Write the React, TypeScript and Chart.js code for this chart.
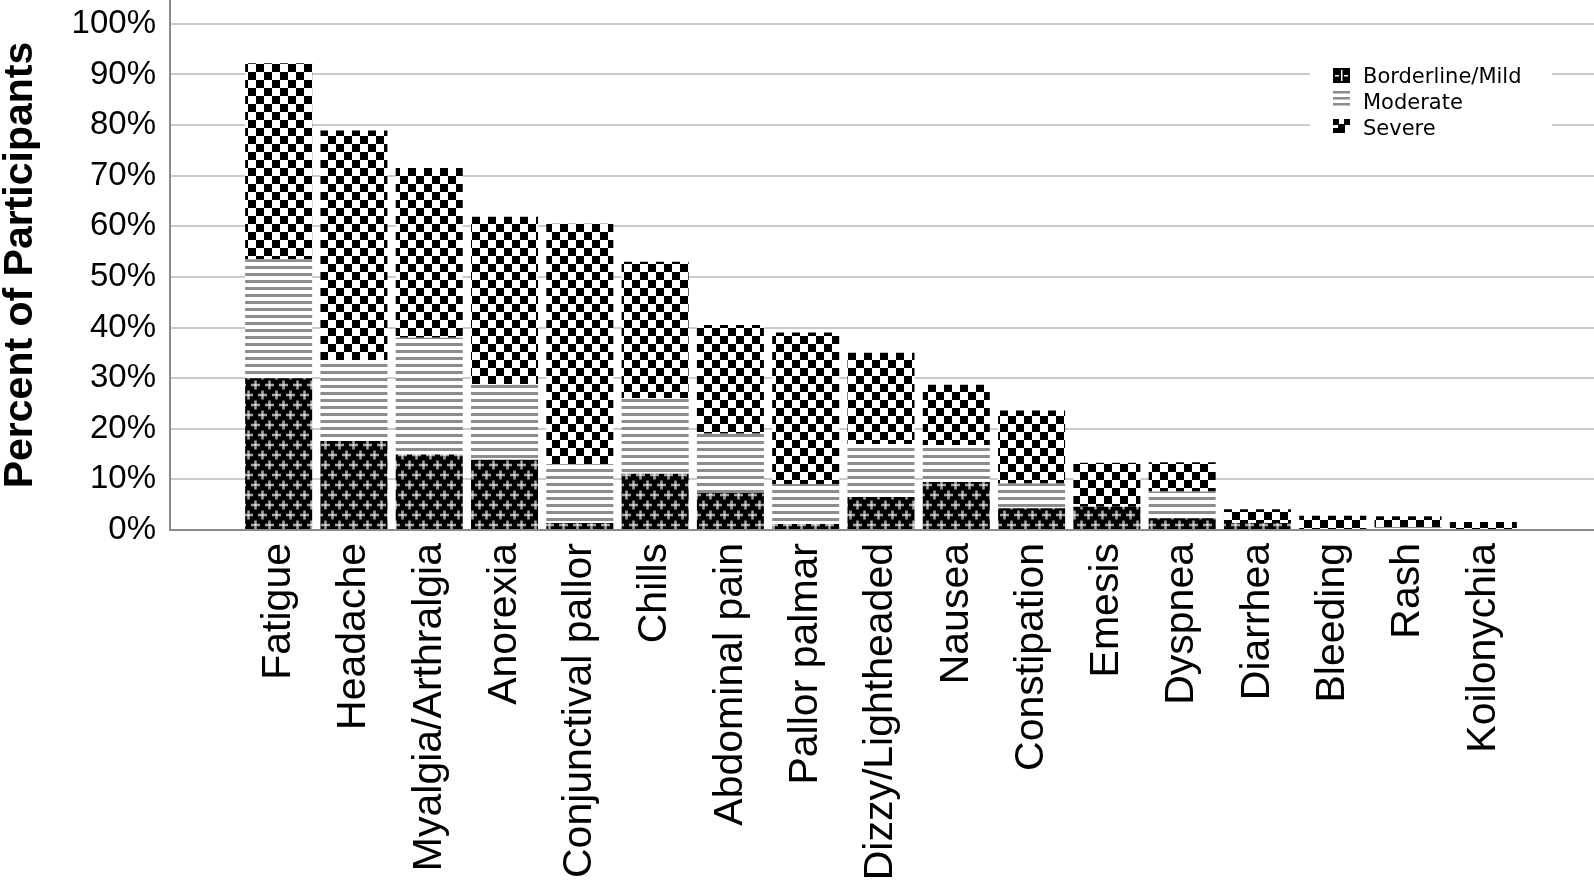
import React, { useEffect, useRef } from 'react';
import { Chart, registerables } from 'chart.js';

Chart.register(...registerables);

const categories = [
  'Fatigue', 'Headache', 'Myalgia/Arthralgia', 'Anorexia', 'Conjunctival pallor', 'Chills',
  'Abdominal pain', 'Pallor palmar', 'Dizzy/Lightheaded', 'Nausea', 'Constipation', 'Emesis',
  'Dyspnea', 'Diarrhea', 'Bleeding', 'Rash', 'Koilonychia',
];
const mildValues = [30.0, 17.6, 14.9, 13.9, 1.4, 11.1, 7.3, 1.2, 6.5, 9.5, 4.3, 4.6, 2.3, 1.4, 0, 0, 0];
const moderateValues = [23.5, 16.0, 23.1, 14.9, 11.6, 15.0, 11.7, 7.9, 10.5, 7.3, 4.9, 0, 5.3, 0, 0, 0.6, 0];
const severeValues = [38.7, 45.3, 33.5, 33.1, 47.5, 26.9, 21.5, 29.9, 18.0, 11.9, 14.4, 8.7, 5.8, 2.7, 2.8, 2.1, 1.6];
const seriesLabels = ['Borderline/Mild', 'Moderate', 'Severe'];
const yTickValues = [0, 10, 20, 30, 40, 50, 60, 70, 80, 90, 100];
const yAxisTitle = 'Percent of Participants';

const W = 1594;
const H = 888;

function makeTile(w: number, h: number, draw: (c: CanvasRenderingContext2D) => void) {
  const c = document.createElement('canvas');
  c.width = w;
  c.height = h;
  const g = c.getContext('2d')!;
  draw(g);
  return c;
}

function buildPatterns(ctx: CanvasRenderingContext2D) {
  const mild = makeTile(14, 20, (g) => {
    g.fillStyle = '#000';
    g.fillRect(0, 0, 14, 20);
    const cross = (x: number, y: number) => {
      g.fillStyle = '#a6a6a6';
      g.fillRect(x - 4.5, y - 1.25, 9, 2.5);
      g.fillRect(x - 1.25, y - 4.5, 2.5, 9);
      g.fillStyle = '#e0e0e0';
      g.fillRect(x - 1, y - 1, 2, 2);
    };
    [[3.5, 5], [10.5, 15], [-3.5, 15], [17.5, 5], [3.5, 25], [10.5, -5]].forEach(([x, y]) => cross(x, y));
  });
  const moderate = makeTile(8, 7, (g) => {
    g.fillStyle = '#fff';
    g.fillRect(0, 0, 8, 7);
    g.fillStyle = '#8c8c8c';
    g.fillRect(0, 0, 8, 3);
  });
  const severe = makeTile(16, 16, (g) => {
    g.fillStyle = '#fff';
    g.fillRect(0, 0, 16, 16);
    g.fillStyle = '#000';
    g.fillRect(0, 0, 8, 8);
    g.fillRect(8, 8, 8, 8);
  });
  return [
    ctx.createPattern(mild, 'repeat')!,
    ctx.createPattern(moderate, 'repeat')!,
    ctx.createPattern(severe, 'repeat')!,
  ];
}

const AXIS_GAP = 71; // distance from drawn y-axis line to first category slot

const extGridPlugin = {
  id: 'extGrid',
  beforeDatasetsDraw(chart: any) {
    const { ctx, scales, chartArea } = chart;
    const y = scales.y;
    const x0 = chartArea.left - AXIS_GAP;
    ctx.save();
    ctx.strokeStyle = '#cbcbcb';
    ctx.lineWidth = 2;
    yTickValues.forEach((v) => {
      if (v === 0) return;
      const py = Math.round(y.getPixelForValue(v));
      ctx.beginPath();
      ctx.moveTo(x0, py);
      ctx.lineTo(chart.width, py);
      ctx.stroke();
    });
    ctx.restore();
  },
  afterDatasetsDraw(chart: any) {
    const { ctx, scales, chartArea } = chart;
    const y = scales.y;
    const x0 = chartArea.left - AXIS_GAP;
    const py0 = Math.round(y.getPixelForValue(0));
    ctx.save();
    ctx.strokeStyle = '#8a8a8a';
    ctx.lineWidth = 2;
    ctx.beginPath();
    ctx.moveTo(x0, py0);
    ctx.lineTo(chart.width, py0);
    ctx.stroke();
    ctx.beginPath();
    ctx.moveTo(x0, 0);
    ctx.lineTo(x0, py0 + 1);
    ctx.stroke();
    ctx.restore();
  },
};

const legendPlugin = {
  id: 'patternLegend',
  afterDraw(chart: any) {
    const { ctx } = chart;
    ctx.save();
    ctx.fillStyle = '#fff';
    ctx.fillRect(1310, 60, 242, 82);
    const sx = 1333;
    const rows = [68, 94, 119];
    // mild swatch
    ctx.fillStyle = '#000';
    ctx.fillRect(sx, rows[0], 17, 15);
    ctx.fillStyle = '#fff';
    ctx.fillRect(sx + 8, rows[0] + 2, 1.5, 11);
    ctx.fillRect(sx + 2, rows[0] + 7, 4, 1.5);
    ctx.fillRect(sx + 11, rows[0] + 7, 4, 1.5);
    // moderate swatch
    ctx.fillStyle = '#8c8c8c';
    ctx.fillRect(sx, rows[1] - 3, 17, 2.5);
    ctx.fillRect(sx, rows[1] + 3, 17, 2.5);
    ctx.fillRect(sx, rows[1] + 9, 17, 2.5);
    // severe swatch
    ctx.fillStyle = '#000';
    ctx.fillRect(sx, rows[2], 6, 6);
    ctx.fillRect(sx + 11, rows[2], 6, 6);
    ctx.fillRect(sx + 5, rows[2] + 5, 7, 9);
    ctx.fillRect(sx, rows[2] + 9, 5, 5);
    ctx.fillStyle = '#000';
    ctx.font = '21px "DejaVu Sans"';
    ctx.textBaseline = 'alphabetic';
    ctx.textAlign = 'left';
    const baselines = [83, 109, 135];
    seriesLabels.forEach((t, i) => ctx.fillText(t, 1363, baselines[i]));
    ctx.restore();
  },
};

export default function App() {
  const ref = useRef<HTMLCanvasElement | null>(null);

  useEffect(() => {
    const canvas = ref.current;
    if (!canvas) return;
    const ctx = canvas.getContext('2d')!;
    const pats = buildPatterns(ctx);
    const seriesValues = [mildValues, moderateValues, severeValues];
    const chart = new Chart(canvas, {
      type: 'bar',
      data: {
        labels: categories,
        datasets: seriesValues.map((vals, i) => ({
          label: seriesLabels[i],
          data: vals,
          backgroundColor: pats[i] as any,
          borderWidth: 0,
          categoryPercentage: 0.89,
          barPercentage: 1,
        })),
      },
      options: {
        responsive: false,
        animation: false,
        events: [],
        layout: { padding: { left: 0, right: 73, top: 0, bottom: 0 } },
        plugins: {
          legend: { display: false },
          tooltip: { enabled: false },
          title: { display: false },
        },
        scales: {
          x: {
            stacked: true,
            grid: { display: false },
            border: { display: false },
            ticks: {
              autoSkip: false,
              minRotation: 90,
              maxRotation: 90,
              padding: 5,
              color: '#000',
              font: { family: '"Liberation Sans", Arial, sans-serif', size: 41 },
            },
            afterFit: (s: any) => {
              s.height = H - 530;
            },
          },
          y: {
            stacked: true,
            min: 0,
            max: 104.7,
            grid: {
              display: true,
              drawOnChartArea: false,
              drawTicks: true,
              tickLength: 105,
              color: 'rgba(0,0,0,0)',
            },
            border: { display: false },
            ticks: {
              stepSize: 10,
              autoSkip: false,
              includeBounds: false,
              padding: -20,
              color: '#000',
              font: { family: '"Liberation Sans", Arial, sans-serif', size: 33 },
              callback: (v: any) => `${v}%`,
            },
            title: {
              display: true,
              text: yAxisTitle,
              color: '#000',
              padding: { top: 0, bottom: 0 },
              font: { family: '"Liberation Sans", Arial, sans-serif', size: 41, weight: 'bold', lineHeight: 1 },
            },
            afterFit: (s: any) => {
              s.width = 241;
            },
          },
        },
      },
      plugins: [extGridPlugin, legendPlugin],
    });
    return () => chart.destroy();
  }, []);

  return (
    <div style={{ position: 'absolute', left: 0, top: 0, width: W, height: H, background: '#fff' }}>
      <canvas ref={ref} width={W} height={H} style={{ display: 'block' }} />
    </div>
  );
}
